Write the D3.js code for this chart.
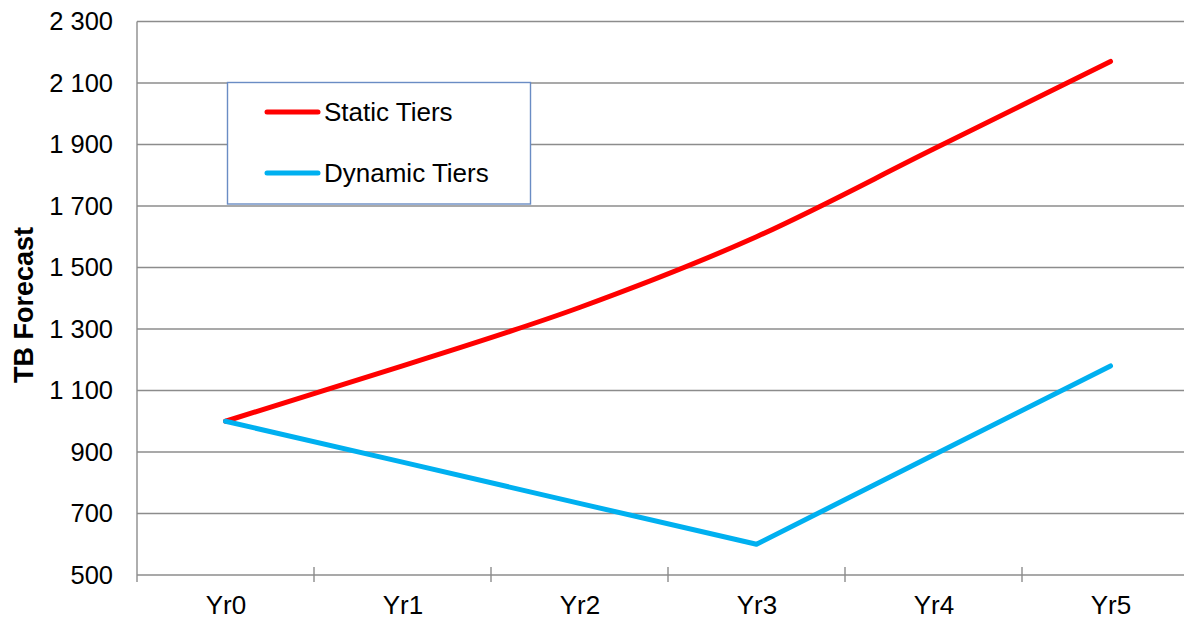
<!DOCTYPE html>
<html>
<head>
<meta charset="utf-8">
<script src="https://cdn.jsdelivr.net/npm/d3@7"></script>
<style>
  html, body { margin: 0; padding: 0; background: #fff; }
  svg { display: block; font-family: "Liberation Sans", Arial, sans-serif; }
</style>
</head>
<body>
<svg id="chart" width="1184" height="617"></svg>
<script>
// Forecast data
const categories = ["Yr0", "Yr1", "Yr2", "Yr3", "Yr4", "Yr5"];
const staticTiers = [1000, 1180, 1370, 1600, 1885, 2170];
const dynamicTiers = [1000, 867, 733, 600, 890, 1180];
const yTicks = [500, 700, 900, 1100, 1300, 1500, 1700, 1900, 2100, 2300];
const seriesNames = ["Static Tiers", "Dynamic Tiers"];
const seriesColors = ["#ff0000", "#00b0f0"];
const yTitle = "TB Forecast";

(function draw() {
  const svg = d3.select("#chart");
  const W = 1184;
  const plotLeft = 137, plotTop = 21.5, plotBottom = 575;
  const bandW = 177;
  const plotRight = plotLeft + bandW * categories.length;

  const xBand = d3.scaleBand().domain(categories).range([plotLeft, plotRight]);
  const x = d3.scalePoint().domain(categories).range([plotLeft, plotRight]).padding(0.5);
  const y = d3.scaleLinear().domain([500, 2300]).range([plotBottom, plotTop]);

  const grid = "#8c8c8c";
  const fmt = d3.formatLocale({ decimal: ".", thousands: " ", grouping: [3], currency: ["", ""] }).format(",d");

  // Horizontal gridlines
  svg.append("g")
    .selectAll("line")
    .data(yTicks.slice(1))
    .join("line")
    .attr("x1", plotLeft).attr("x2", W + 20)
    .attr("y1", d => y(d)).attr("y2", d => y(d))
    .attr("stroke", grid).attr("stroke-width", 1.4);

  // Y axis labels
  const yAxis = svg.append("g")
    .attr("transform", `translate(${plotLeft},0)`)
    .call(d3.axisLeft(y).tickValues(yTicks).tickFormat(fmt).tickSize(0).tickPadding(24));
  yAxis.select(".domain").remove();
  yAxis.selectAll("text")
    .attr("font-size", 25.5).attr("fill", "#000")
    .attr("font-family", "Liberation Sans, Arial, sans-serif");

  // Y axis line
  svg.append("line")
    .attr("x1", plotLeft).attr("x2", plotLeft)
    .attr("y1", plotTop).attr("y2", plotBottom + 7)
    .attr("stroke", grid).attr("stroke-width", 1.4);

  // X axis line
  svg.append("line")
    .attr("x1", plotLeft).attr("x2", W + 20)
    .attr("y1", plotBottom).attr("y2", plotBottom)
    .attr("stroke", grid).attr("stroke-width", 1.4);

  // Category boundary ticks
  svg.append("g")
    .selectAll("line")
    .data(categories.slice(1))
    .join("line")
    .attr("x1", d => xBand(d)).attr("x2", d => xBand(d))
    .attr("y1", plotBottom - 8).attr("y2", plotBottom + 7)
    .attr("stroke", grid).attr("stroke-width", 1.4);

  // X axis labels
  const xAxis = svg.append("g")
    .attr("transform", `translate(0,${plotBottom})`)
    .call(d3.axisBottom(x).tickSize(0).tickPadding(21));
  xAxis.select(".domain").remove();
  xAxis.selectAll("text")
    .attr("font-size", 26).attr("fill", "#000")
    .attr("font-family", "Liberation Sans, Arial, sans-serif");

  // Y axis title
  svg.append("text")
    .attr("transform", `translate(33,305) rotate(-90)`)
    .attr("text-anchor", "middle")
    .attr("font-size", 27)
    .attr("font-weight", "bold")
    .text(yTitle);

  // Series lines: the static series is smoothed, the dynamic one is straight
  const curves = [d3.curveMonotoneX, d3.curveLinear];
  [staticTiers, dynamicTiers].forEach((vals, k) => {
    const line = d3.line()
      .x((d, i) => x(categories[i]))
      .y(d => y(d))
      .curve(curves[k]);
    svg.append("path")
      .datum(vals)
      .attr("d", line)
      .attr("fill", "none")
      .attr("stroke", seriesColors[k])
      .attr("stroke-width", 5)
      .attr("stroke-linecap", "round")
      .attr("stroke-linejoin", "round");
  });

  // Legend
  const lg = svg.append("g");
  lg.append("rect")
    .attr("x", 227.5).attr("y", 82.5)
    .attr("width", 303).attr("height", 121.5)
    .attr("fill", "#fff")
    .attr("stroke", "#6a8cc4").attr("stroke-width", 1.4);

  const legendRows = [112, 173];
  seriesNames.forEach((name, k) => {
    lg.append("line")
      .attr("x1", 267).attr("x2", 318)
      .attr("y1", legendRows[k]).attr("y2", legendRows[k])
      .attr("stroke", seriesColors[k]).attr("stroke-width", 5)
      .attr("stroke-linecap", "round");
    lg.append("text")
      .attr("x", 324).attr("y", legendRows[k])
      .attr("dy", "0.35em")
      .attr("font-size", 26)
      .text(name);
  });
})();
</script>
</body>
</html>
